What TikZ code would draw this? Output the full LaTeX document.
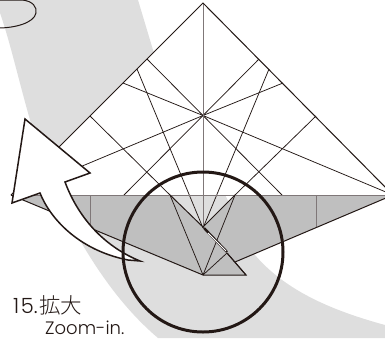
\documentclass[tikz,border=0pt]{standalone}
\usepackage{fontspec}
\setmainfont{Poppins}[UprightFont=* Light]
\newfontfamily\jpfont{Noto Sans CJK JP}[UprightFont=* Light]
\definecolor{ink}{HTML}{231815}
\definecolor{band}{HTML}{DEDEDE}
\definecolor{body}{HTML}{BFBFBF}
\definecolor{midline}{HTML}{7F7778}
\tikzset{
  thinline/.style={draw=ink,line width=0.75pt},
  edgeline/.style={draw=ink,line width=1pt},
  foldline/.style={draw=midline,line width=1pt},
  arrowshape/.style={draw=ink,fill=white,line width=1.5pt,line join=miter},
  ringline/.style={draw=ink,line width=3pt},
  caption/.style={anchor=base west,inner sep=0pt,text=ink}
}
\begin{document}
\begin{tikzpicture}[x=1pt,y=-1pt]
\useasboundingbox (0,0) rectangle (385,338);
\begin{scope}
\clip (0,0) rectangle (385,338);
% background band
\fill[band] (0,13) .. controls (20,70) and (35,170) .. (78,237)
  .. controls (100,275) and (125,310) .. (158,338) -- (385,338) -- (385,325)
  .. controls (330,310) and (285,290) .. (255,255) -- (153,50) -- (138,0) -- (0,0) -- cycle;
% paper
\fill[white] (203,3) -- (393,195) -- (11,195) -- cycle;
\fill[body] (11,195) -- (170,195) -- (203,227) -- (235,195) -- (393,195) -- (235,262) -- (227,253)
  -- (246,275) -- (203,275) -- cycle;
% crease lines
\foreach \ax/\ay/\bx/\by in {
  203/115.5/259/59, 203/115.5/283/83, 203/115.5/393/195, 203/115.5/282/195,
  203/115.5/147/59, 203/115.5/123/83, 203/115.5/13/195, 203/115.5/124/195,
  269/69/203/228, 137/69/203/228, 316/116/235/195, 90/116/170/195,
  235/195/203/275, 170/195/203/275, 227/253/203/275}
  \draw[thinline] (\ax,\ay) -- (\bx,\by);
\draw[foldline] (203,3) -- (203,227);
\draw[foldline] (11,195) -- (393,195);
\draw[foldline] (90.5,195) -- (90.5,232);
\draw[foldline] (316,195) -- (316,228);
% outline
\draw[edgeline] (11,195) -- (203,3) -- (393,195) -- (235,262);
\draw[edgeline] (11,195) -- (203,275) -- (246,275) -- (227,253);
\draw[edgeline] (170,195) -- (203,227) -- (235,195);
\draw[line width=2.4pt,ink] (204,228) -- (227,252);
\draw[line width=1pt,white] (208,233) -- (226,251);
\draw[edgeline] (227,253) -- (246,275);
% top-left balloon
\draw[ink,line width=1pt] (-2,0) -- (22,0) .. controls (33,1) and (37,7) .. (36,13)
  .. controls (34,23) and (15,28) .. (-2,28);
% arrow
\draw[arrowshape] (140,261) .. controls (108,248) and (80,222) .. (65,182)
  -- (90,173) -- (25,119) -- (12,203) -- (40,193)
  .. controls (50,218) and (78,250) .. (128,260) -- cycle;
% ring
\draw[ringline] (203,252) circle (80);
% caption
\node[caption,font=\fontsize{21}{21}\selectfont] (num) at (13,313) {1\hspace{1.5pt}5.\hspace{1.5pt}{\jpfont\fontsize{21.5}{21.5}\selectfont 拡大}};
\node[caption,font=\fontsize{18}{18}\selectfont] (zoom) at (45,334) {Zoom-in.};
\end{scope}
\end{tikzpicture}
\end{document}
